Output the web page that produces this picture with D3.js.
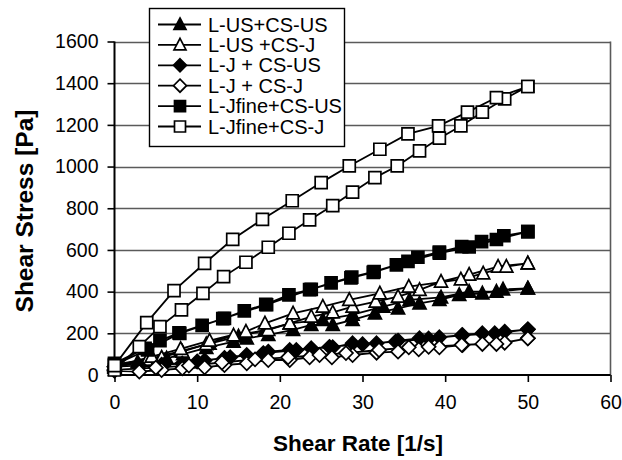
<!DOCTYPE html>
<html>
<head>
<meta charset="utf-8">
<script src="https://cdn.jsdelivr.net/npm/d3@7/dist/d3.min.js"></script>
<style>
  body { margin: 0; background: #fff; }
  text { font-family: "Liberation Sans", Arial, sans-serif; fill: #000; }
</style>
</head>
<body>
<svg id="chart" width="622" height="460"></svg>
<script>
// ---- data, [shear rate, shear stress], ramp up then ramp down
var usUsUp   = [[0,45],[2.8,62],[4,70],[6.3,80],[8.3,100],[11.1,130],[14.4,160],[16,176],[18.6,192],[21.6,216],[23.8,240],[26.4,240],[28.8,264],[31.5,296],[34.3,320],[36.9,344],[39.3,360],[41.7,384],[44.5,392],[47,411],[50,415]];
var usUsDown = [[50,415],[46.2,400],[42.9,400],[39.5,372],[35.7,360],[32.5,328],[28.8,290],[25.2,264],[21.2,248],[18.2,215],[15,185],[11.5,150],[8,115],[4.5,80],[0,50]];

var usJUp    = [[0,35],[3.9,68],[5.7,84],[8.2,112],[11.1,148],[14.4,190],[18.6,216],[21.2,248],[23.8,280],[26.4,300],[28.8,328],[31.6,352],[34.3,376],[36.9,408],[39.5,448],[42.9,482],[46.4,520],[50,536]];
var usJDown  = [[50,536],[47.4,520],[44.6,488],[41.9,459],[35.6,424],[32.1,392],[28.4,360],[25.2,328],[21.6,296],[18.2,248],[15.9,208],[11.5,165],[8,125],[4.5,88],[0,40]];

var jUsUp    = [[0,40],[3,45],[5.7,50],[8.2,55],[10.9,70],[13.3,82],[16,96],[18.6,112],[21.2,120],[23.8,128],[26.4,133],[28.8,152],[31.7,152],[34.3,165],[36.9,176],[39.3,181],[42.1,192],[44.5,200],[47.2,208],[50,219]];
var jUsDown  = [[50,219],[46,200],[42,190],[38,175],[34,160],[30,148],[26,135],[22,120],[18,105],[14,85],[10,65],[6,50],[0,40]];

var jJUp     = [[0,20],[3,16],[5.7,24],[8.2,32],[10.9,37],[13.3,48],[16,56],[18.6,72],[21.2,72],[23.6,85],[26.3,85],[28.8,96],[31.7,107],[34.3,112],[36.8,123],[39.3,133],[42.1,144],[44.5,149],[47.2,155],[50,176]];
var jJDown   = [[50,176],[46.2,149],[42,145],[38,135],[35.6,133],[32,120],[28,105],[24.8,96],[21,85],[17,75],[13,60],[9,45],[5,35],[0,25]];

var fineUsUp   = [[0,56],[3.7,128],[5.5,165],[7.8,202],[10.6,238],[13.3,272],[15.7,308],[18.3,339],[21.1,384],[23.8,411],[26.2,442],[28.7,470],[31.4,496],[34.1,528],[36.7,565],[39.3,590],[42,616],[44.4,640],[47.1,668],[50,688]];
var fineUsDown = [[50,688],[46.2,650],[42.9,614],[39.3,585],[35.5,545],[31.3,492],[28.6,466],[23.6,410],[18.4,337],[13.1,270],[7.9,200],[4,120],[0,50]];

var fineJUp    = [[0,24],[3,136],[5.5,232],[8.1,312],[10.7,392],[13.2,472],[15.9,541],[18.6,613],[21.1,680],[23.6,744],[26.4,813],[28.8,877],[31.5,947],[34.2,1003],[36.9,1075],[39.3,1136],[41.9,1195],[44.5,1261],[47.2,1325],[50,1384]];
var fineJDown  = [[50,1384],[46.2,1331],[42.7,1261],[39.2,1195],[35.5,1157],[32.1,1083],[28.4,1003],[25,923],[21.5,836],[17.9,747],[14.3,651],[10.9,536],[7.2,405],[3.9,251],[0,45]];

var seriesNames = ["L-US+CS-US", "L-US +CS-J", "L-J + CS-US", "L-J + CS-J", "L-Jfine+CS-US", "L-Jfine+CS-J"];
var seriesData  = [usUsUp.concat(usUsDown), usJUp.concat(usJDown), jUsUp.concat(jUsDown),
                   jJUp.concat(jJDown), fineUsUp.concat(fineUsDown), fineJUp.concat(fineJDown)];
var seriesShape = ["triangle", "triangle", "diamond", "diamond", "square", "square"];
var seriesFill  = ["#000", "#fff", "#000", "#fff", "#000", "#fff"];

var xTicks = [0, 10, 20, 30, 40, 50, 60];
var yTicks = [0, 200, 400, 600, 800, 1000, 1200, 1400, 1600];

// ---- layout
var svg = d3.select("#chart");
var plotLeft = 114.5, plotRight = 610.5, plotTop = 41.5, plotBottom = 375;
var markSize = 12;

var x = d3.scaleLinear().domain([0, 60]).range([plotLeft, plotRight]);
var y = d3.scaleLinear().domain([0, 1600]).range([plotBottom, plotTop]);

// gridlines
svg.append("g").selectAll("line")
  .data(yTicks.filter(function(d) { return d > 0; }))
  .enter().append("line")
    .attr("x1", plotLeft).attr("x2", plotRight)
    .attr("y1", function(d) { return Math.round(y(d)) + 0.5; })
    .attr("y2", function(d) { return Math.round(y(d)) + 0.5; })
    .attr("stroke", "#5a5a5a").attr("stroke-width", 1.6);

// right border of the plot area
svg.append("line")
  .attr("x1", plotRight).attr("x2", plotRight).attr("y1", plotTop).attr("y2", plotBottom)
  .attr("stroke", "#5a5a5a").attr("stroke-width", 1.6);

// axes
var xAxis = d3.axisBottom(x).tickValues(xTicks).tickSize(7).tickPadding(13);
var yAxis = d3.axisLeft(y).tickValues(yTicks).tickFormat(d3.format("d")).tickSize(7).tickPadding(9);

var gx = svg.append("g").attr("transform", "translate(0," + plotBottom + ")").call(xAxis);
var gy = svg.append("g").attr("transform", "translate(" + plotLeft + ",0)").call(yAxis);

[gx, gy].forEach(function(g) {
  g.attr("font-size", null).attr("font-family", null);
  g.select(".domain").attr("stroke", "#000").attr("stroke-width", 2);
  g.selectAll(".tick line").attr("stroke", "#000").attr("stroke-width", 1.6);
  g.selectAll(".tick text")
    .style("font-family", '"Liberation Sans", Arial, sans-serif')
    .style("font-size", "19.5px").attr("fill", "#000");
});
gy.select(".domain").attr("d", "M0," + plotBottom + "V" + plotTop);
gx.select(".domain").attr("d", "M" + plotLeft + ",0H" + plotRight);

// axis titles
svg.append("text")
  .text("Shear Rate [1/s]")
  .attr("x", 358).attr("y", 451)
  .attr("text-anchor", "middle")
  .style("font-size", "22.5px").style("font-weight", "bold");

svg.append("text")
  .text("Shear Stress [Pa]")
  .attr("transform", "translate(33,211) rotate(-90)")
  .attr("text-anchor", "middle")
  .style("font-size", "24.5px").style("font-weight", "bold");

// markers
function markerPath(shape, s) {
  var h = s / 2;
  if (shape === "square") return "M" + (-h) + "," + (-h) + "H" + h + "V" + h + "H" + (-h) + "Z";
  if (shape === "diamond") return "M0," + (-h - 1) + "L" + (h + 1) + ",0L0," + (h + 1) + "L" + (-h - 1) + ",0Z";
  return "M0," + (-h - 1) + "L" + (h + 0.5) + "," + (h - 0.5) + "L" + (-h - 0.5) + "," + (h - 0.5) + "Z";
}

var line = d3.line()
  .x(function(d) { return x(d[0]); })
  .y(function(d) { return y(d[1]); });

seriesData.forEach(function(pts, i) {
  var g = svg.append("g");
  g.append("path")
    .datum(pts)
    .attr("d", line)
    .attr("fill", "none")
    .attr("stroke", "#000")
    .attr("stroke-width", 1.8);

  g.selectAll("path.mk")
    .data(pts)
    .enter().append("path")
      .attr("class", "mk")
      .attr("transform", function(d) { return "translate(" + x(d[0]) + "," + y(d[1]) + ")"; })
      .attr("d", markerPath(seriesShape[i], markSize))
      .attr("fill", seriesFill[i])
      .attr("stroke", "#000")
      .attr("stroke-width", 1.7);
});

// legend
var legend = svg.append("g");
legend.append("rect")
  .attr("x", 149.5).attr("y", 8.5).attr("width", 195).attr("height", 138)
  .attr("fill", "#fff").attr("stroke", "#000").attr("stroke-width", 1.4);

var rowY = d3.scaleLinear().domain([0, 5]).range([24.5, 126.5]);

seriesNames.forEach(function(name, i) {
  var cy = rowY(i);
  legend.append("line")
    .attr("x1", 158).attr("x2", 201).attr("y1", cy).attr("y2", cy)
    .attr("stroke", "#000").attr("stroke-width", 1.8);
  legend.append("path")
    .attr("transform", "translate(180," + cy + ")")
    .attr("d", markerPath(seriesShape[i], markSize - 1))
    .attr("fill", seriesFill[i])
    .attr("stroke", "#000")
    .attr("stroke-width", 1.7);
  legend.append("text")
    .text(name)
    .attr("x", 208).attr("y", cy + 7)
    .style("font-size", "20px");
});
</script>
</body>
</html>
